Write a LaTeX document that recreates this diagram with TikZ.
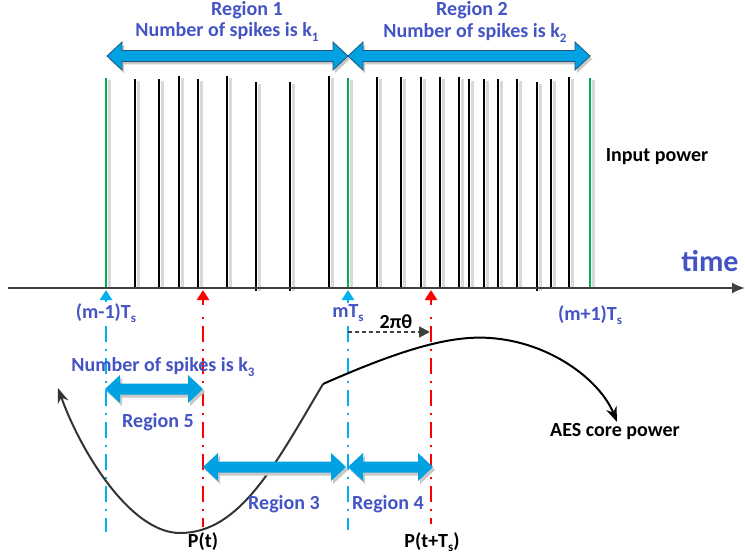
\documentclass[tikz,border=0pt]{standalone}
\usepackage{fontspec}
\setmainfont{Carlito}
\usetikzlibrary{arrows.meta}
\definecolor{lblue}{RGB}{68,84,196}
\definecolor{afill}{RGB}{0,162,226}
\definecolor{adraw}{RGB}{35,85,125}
\definecolor{cyanl}{RGB}{0,176,240}
\definecolor{redl}{RGB}{255,0,0}
\definecolor{greenl}{RGB}{0,176,80}
\newcommand\mysub[1]{\raisebox{-0.22em}{\fontsize{13}{13}\selectfont #1}}
\newcommand\dblarrow[4]{%
  \path[#1] (#2,#4) -- ({#2+15},{#4-14}) -- ({#2+15},{#4-5.5}) -- ({#3-15},{#4-5.5}) -- ({#3-15},{#4-14}) -- (#3,#4)
   -- ({#3-15},{#4+14}) -- ({#3-15},{#4+5.5}) -- ({#2+15},{#4+5.5}) -- ({#2+15},{#4+14}) -- cycle;}
\tikzset{
  lbl/.style={font=\fontsize{20}{22}\selectfont\bfseries, text=lblue, inner sep=0pt},
  blk/.style={font=\fontsize{20}{22}\selectfont\bfseries, text=black, inner sep=0pt},
  spike/.style={line width=2.5pt, black},
  shadowl/.style={line width=3pt, black!15},
  gspike/.style={line width=2.5pt, greenl},
  dashdot/.style={line width=2pt, dash pattern=on 16pt off 7pt on 2pt off 7pt},
  ashadow/.style={fill=black!22, xshift=2pt, yshift=-3pt},
  topa/.style={fill=afill, draw=adraw, line width=0.8pt},
  lowa/.style={fill=afill},
}
\begin{document}
\begin{tikzpicture}[x=1pt,y=-1pt]
\useasboundingbox (0,0) rectangle (745,559);
% spikes shadows
\foreach \x/\t/\b in {135/79/288,159/79/288,179/76/288,198/79/288,227/76/288,256/82/291,290/82/291,329/76/288,
  377/77/288,401/77/288,421/77/288,440/77/288,459/77/288,469/79/288,484/79/288,498/79/288,517/79/288,537/82/291,551/79/288,569/77/288,
  106/78/288,348/78/288,590/78/288}
  \draw[shadowl] ({\x+3},{\t+2}) -- ({\x+3},\b);
% black spikes
\foreach \x/\t/\b in {135/79/288,159/79/288,179/76/288,198/79/288,227/76/288,256/82/291,290/82/291,329/76/288,
  377/77/288,401/77/288,421/77/288,440/77/288,459/77/288,469/79/288,484/79/288,498/79/288,517/79/288,537/82/291,551/79/288,569/77/288}
  \draw[spike] (\x,\t) -- (\x,\b);
% green spikes
\foreach \x in {106,348,590}
  \draw[gspike] (\x,78) -- (\x,288);
% time axis
\coordinate (ax0) at (8,288);
\coordinate (ax1) at (745,288);
\draw[line width=2pt, black!75, -{Latex[length=13pt,width=11pt]}] (ax0) -- (ax1);
\node[lbl, font=\fontsize{30}{32}\selectfont\bfseries] (time) at (710,261) {time};
\node[blk] (inp) at (657,157) {Input power};

% top double arrows
\dblarrow{ashadow}{107}{348}{56}
\dblarrow{ashadow}{348}{590}{56}
\dblarrow{topa}{107}{348}{56}
\dblarrow{topa}{348}{590}{56}
\node[lbl] (r1) at (247,10) {Region 1};
\node[lbl] (n1) at (227,32) {Number of spikes is k\mysub{1}};
\node[lbl] (r2) at (472,10) {Region 2};
\node[lbl] (n2) at (475,33) {Number of spikes is k\mysub{2}};

% sampling markers
\coordinate (c1) at (106,290); \coordinate (c1s) at (106,305);
\coordinate (c2) at (348,290); \coordinate (c2s) at (348,305);
\coordinate (p1) at (203,290); \coordinate (p1s) at (203,305);
\coordinate (p2) at (431,290); \coordinate (p2s) at (431,305);
\draw[cyanl, line width=2.5pt, -{Triangle[length=10pt,width=12pt]}] (c1s) -- (c1);
\draw[cyanl, line width=2.5pt, -{Triangle[length=10pt,width=12pt]}] (c2s) -- (c2);
\draw[redl, line width=2.5pt, -{Triangle[length=10pt,width=12pt]}] (p1s) -- (p1);
\draw[redl, line width=2.5pt, -{Triangle[length=10pt,width=12pt]}] (p2s) -- (p2);
\draw[cyanl, dashdot, dash phase=18pt] (106,312) -- (106,532);
\draw[cyanl, dashdot, dash phase=18pt] (348,312) -- (348,530);
\draw[redl, dashdot, dash phase=18pt] (203,312) -- (203,527);
\draw[redl, dashdot, dash phase=18pt] (431,312) -- (431,524);
\node[lbl, fill=white, inner sep=1pt] (t1) at (106,313) {(m-1)T\mysub{s}};
\node[lbl, fill=white, inner sep=1pt] (t2) at (348,313) {mT\mysub{s}};
\node[lbl] (t3) at (590,315) {(m+1)T\mysub{s}};

% 2 pi theta
\node[blk] (th) at (396,322) {2πθ};
\coordinate (d1) at (348,332);
\coordinate (d2) at (430,332);
\draw[black!75, line width=1.8pt, dash pattern=on 4pt off 3pt, -{Triangle[length=11pt,width=11pt]}] (d1) -- (d2);

% AES core power curve
\coordinate (kink) at (323,384);
\coordinate (ltip) at (58,388);
\coordinate (rtip) at (617,422);
\draw[black!80, line width=2pt, -{Stealth[length=15pt,width=11pt]}] (kink) .. controls (275,465) and (240,533) .. (180,533) .. controls (130,533) and (80,450) .. (ltip);
\draw[black, line width=2pt, -{Stealth[length=15pt,width=11pt]}] (kink) .. controls (400,350) and (450,335) .. (490,338) .. controls (550,342) and (600,380) .. (rtip);
\node[blk] (aes) at (615,432) {AES core power};

% lower double arrows
\dblarrow{ashadow}{105}{203}{389}
\dblarrow{ashadow}{203}{346}{467}
\dblarrow{ashadow}{348}{433}{467}
\dblarrow{lowa}{105}{203}{389}
\dblarrow{lowa}{203}{346}{467}
\dblarrow{lowa}{348}{433}{467}
\node[lbl] (n3) at (163,367) {Number of spikes is k\mysub{3}};
\node[lbl] (r5) at (158,422) {Region 5};
\node[lbl] (r3) at (284,504) {Region 3};
\node[lbl] (r4) at (388,504) {Region 4};
\node[blk] (pt) at (203,542) {P(t)};
\node[blk] (pts) at (432,542) {P(t+T\mysub{s})};
\end{tikzpicture}
\end{document}
